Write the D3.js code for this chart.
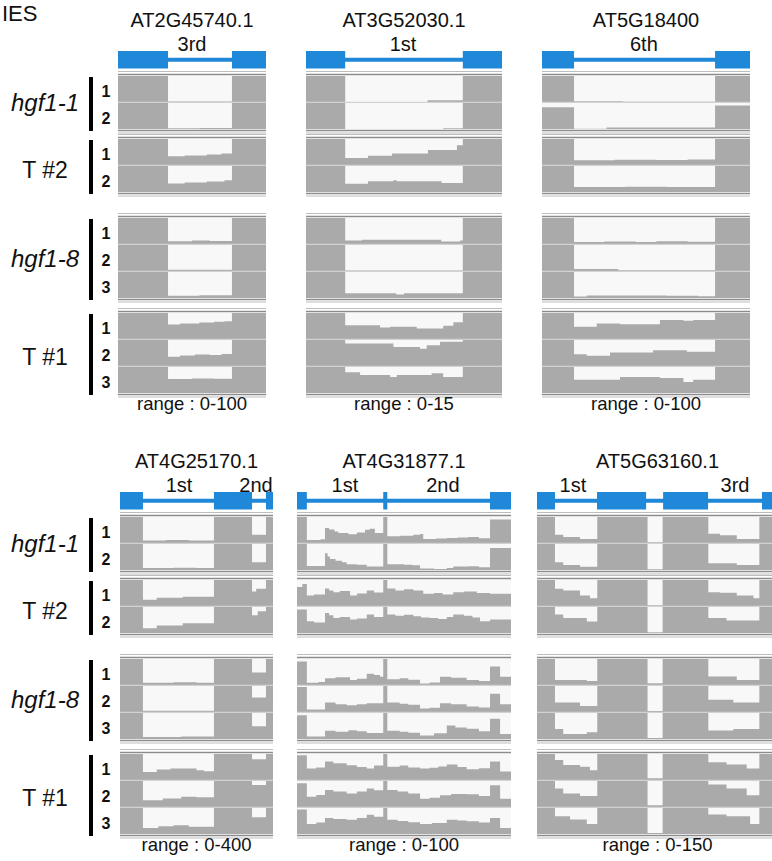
<!DOCTYPE html>
<html>
<head>
<meta charset="utf-8">
<script src="https://cdn.jsdelivr.net/npm/d3@7"></script>
<style>
  body { margin: 0; background: #fff; }
  svg { display: block; font-family: "Liberation Sans", Arial, sans-serif; }
</style>
</head>
<body>
<div id="fig"></div>
<script>
// IGV-style read coverage across retained introns, 6 genes x 10 libraries
const geneNames = ['AT2G45740.1', 'AT3G52030.1', 'AT5G18400', 'AT4G25170.1', 'AT4G31877.1', 'AT5G63160.1'];
const covRanges = [100, 15, 100, 400, 100, 150];
// intron labels: [text, position] in gene coords (0-100 across the window)
const intronLabels = [
  [['3rd', 50]], [['1st', 49.5]], [['6th', 49]],
  [['1st', 38.6], ['2nd', 88.9]], [['1st', 22.4], ['2nd', 68.2]], [['1st', 14.8], ['3rd', 81.5]]
];
const geneExons = [
  [[0, 33.8], [77, 100]],
  [[0, 20], [80, 100]],
  [[0, 15.4], [83.2, 100]],
  [[0, 15], [61.4, 86.3], [95.4, 100]],
  [[0, 4.6], [40.3, 42.2], [90.2, 100]],
  [[0, 7.4], [24.7, 44.9], [51.9, 70.4], [92.6, 100]]
];
const groupNames = ['hgf1-1', 'T #2', 'hgf1-8', 'T #1'];
const groupReps = [2, 2, 3, 3];

// coverage as bedGraph-like steps [start, depth]; track order hgf1-1 r1,r2 | T#2 r1,r2 | hgf1-8 r1-3 | T#1 r1-3
const covAT2G45740 = [
  [[0,100],[33.8,2],[77,100]],
  [[0,100],[33.8,3],[55,4],[77,100]],
  [[0,100],[33.8,34],[45,37],[60,40],[70,44],[77,100]],
  [[0,100],[33.8,33],[45,37],[60,40],[72,45],[77,100]],
  [[0,100],[33.8,11],[50,13],[62,12],[77,100]],
  [[0,100],[33.8,5],[77,100]],
  [[0,100],[33.8,9],[55,11],[77,100]],
  [[0,100],[33.8,56],[42,60],[55,63],[65,66],[72,68],[77,100]],
  [[0,100],[33.8,36],[42,40],[52,44],[62,42],[70,46],[77,100]],
  [[0,100],[33.8,54],[50,56],[65,55],[77,100]]
];
const covAT3G52030 = [
  [[0,15],[20,0],[62,1],[80,15]],
  [[0,15],[20,0],[70,0.4],[80,15]],
  [[0,15],[20,4],[31.6,5.4],[43.9,6.6],[62.2,8.6],[77,11.4],[80,15]],
  [[0,15],[20,4.8],[31.6,6.2],[44.6,6.8],[46.3,6.2],[69.2,5.2],[80,15]],
  [[0,15],[20,2],[28.6,2.4],[69,1.4],[78.6,2],[80,15]],
  [[0,15],[20,0.3],[80,15]],
  [[0,15],[20,2.8],[46,2],[50,2.8],[80,15]],
  [[0,15],[20,8],[37.8,6.6],[42.9,7],[56.5,6],[70,7.6],[75.2,9.6],[80,15]],
  [[0,15],[20,13],[44.6,11],[58.2,10],[61.6,12],[68.4,14],[80,15]],
  [[0,15],[20,12],[27.6,10.4],[42.9,9.2],[46.3,10.4],[64.1,11.4],[70,9.2],[80,15]]
];
const covAT5G18400 = [
  [[0,100],[15.4,3],[39,1],[83.2,100]],
  [[0,84],[15.4,1],[31,6],[83.2,90]],
  [[0,100],[15.4,18],[35,20],[55,19],[70,21],[83.2,100]],
  [[0,100],[15.4,19],[40,20],[60,19],[83.2,100]],
  [[0,100],[15.4,8],[30,10],[45,8],[55,11],[70,9],[83.2,100]],
  [[0,100],[15.4,8],[36.7,3],[83.2,100]],
  [[0,100],[15.4,6],[21.5,10],[60,9],[75,7],[83.2,100]],
  [[0,100],[15.4,47],[26.3,60],[37.5,57],[56.7,73],[68,70],[72.7,73],[83.2,100]],
  [[0,100],[15.4,45],[21.5,39],[32.7,52],[53.4,61],[69.6,55],[83.2,100]],
  [[0,100],[15.4,51],[37.5,62],[56.7,58],[68,42],[72.7,51],[83.2,100]]
];
const covAT4G25170 = [
  [[0,400],[15,40],[30,45],[45,38],[61.4,400],[86.3,128],[95.4,400]],
  [[0,400],[15,30],[35,34],[50,30],[61.4,400],[86.3,118],[95.4,400]],
  [[0,400],[15,96],[24,128],[41,144],[61.4,400],[86.3,224],[89,264],[95.4,400]],
  [[0,400],[15,75],[24,115],[41,150],[61.4,400],[86.3,275],[90,335],[95.4,400]],
  [[0,400],[15,36],[35,42],[50,36],[61.4,400],[86.3,192],[95.4,400]],
  [[0,400],[15,20],[61.4,400],[86.3,225],[95.4,400]],
  [[0,400],[15,30],[40,38],[61.4,400],[86.3,195],[95.4,400]],
  [[0,400],[15,122],[24,160],[33,176],[50,150],[55,133],[61.4,400],[86.3,320],[95.4,400]],
  [[0,400],[15,104],[28,130],[40,156],[50,150],[61.4,400],[86.3,338],[95.4,400]],
  [[0,400],[15,92],[25,120],[35,133],[45,110],[61.4,400],[86.3,256],[95.4,400]]
];
const covAT4G31877 = [
  [[0,100],[4.6,12],[11,14],[13.1,58],[15,52],[17.5,44],[19.3,38],[24,34],[28,40],[31.8,51],[34,55],[36.4,38],[40.3,100],[42.2,26],[48,28],[54.4,32],[57.5,35],[59,15],[65,17],[70,19],[75,21],[80,23],[85,18],[90.2,90]],
  [[0,100],[4.6,15],[13.1,64],[14.3,52],[15.4,42],[18,36],[21,30],[23.2,22],[28,20],[32.6,13],[40.3,100],[42.2,22],[50,20],[54,18],[57.5,6],[64,4],[70,8],[73,13],[80,14],[85,11],[90.2,85]],
  [[0,73],[2.5,85],[4.6,40],[8,44],[13.1,67],[15,60],[17,53],[20,58],[24.8,40],[28,48],[32.6,60],[36,52],[40.3,100],[42.2,67],[46,60],[50,64],[54.4,60],[59,47],[64,50],[68,44],[73,53],[78,56],[84,50],[90.2,47]],
  [[0,90],[4.6,45],[8,40],[13.1,77],[15,68],[17,58],[20,62],[24.8,52],[28,56],[32.6,71],[36,62],[40.3,100],[42.2,71],[46,66],[50,70],[54.4,64],[58,60],[62.1,58],[66,54],[70,62],[73,71],[78,66],[82,60],[85.5,45],[90.2,52]],
  [[0,90],[4.6,9],[10,12],[13.1,26],[18,30],[24.8,19],[28,24],[32.6,43],[36,38],[38.8,32],[40.3,100],[42.2,22],[48,26],[52,20],[57.5,6],[62,10],[66.8,32],[72,28],[79.3,19],[85,15],[90.2,71],[94.9,32]],
  [[0,96],[4.6,10],[13.1,37],[18,30],[23.2,26],[28,30],[32.6,34],[40.3,100],[42.2,37],[48,32],[52,28],[57.5,13],[62,16],[66.8,34],[72,30],[79.3,21],[85,17],[90.2,70],[94.9,30]],
  [[0,91],[4.6,10],[13.1,32],[18,28],[24,34],[28,30],[32.6,23],[40.3,100],[42.2,32],[48,28],[52,24],[57.5,13],[64,22],[70,52],[74,44],[79.3,39],[85,30],[90.2,78],[94.9,19]],
  [[0,95],[4.6,44],[9,48],[13.1,71],[17,64],[23.2,57],[28,50],[32.6,44],[36,56],[40.3,100],[42.2,51],[48,56],[52,48],[57.5,44],[62,47],[66,52],[70,60],[75,50],[79.3,41],[85,45],[90.2,71],[94.9,33]],
  [[0,91],[4.6,39],[9,46],[13.1,65],[17,60],[23.2,52],[28,60],[32.6,71],[36,64],[40.3,100],[42.2,65],[47,60],[52,52],[57.5,32],[62,36],[66.8,45],[72,50],[79.3,49],[85,42],[90.2,84],[94.9,32]],
  [[0,94],[4.6,38],[9,44],[13.1,62],[17,58],[23.2,55],[28,62],[32.6,74],[36,66],[40.3,100],[42.2,55],[47,50],[52,45],[57.5,38],[63,42],[70,55],[75,52],[79.3,49],[85,44],[90.2,62],[94.9,23]]
];
const covAT5G63160 = [
  [[0,150],[7.4,48],[10.8,35],[17.7,23],[24.8,150],[45.5,4],[51.7,150],[70.5,54],[75.3,44],[82.2,23],[91.5,150]],
  [[0,150],[7.4,45],[10.8,29],[17.7,19],[24.8,150],[45.5,4],[51.7,150],[70.5,39],[82.2,29],[91.5,150]],
  [[0,150],[7.4,100],[10.8,90],[17.7,60],[21.8,44],[24.8,150],[45.5,4],[51.7,150],[70.5,80],[75.3,76],[82.2,60],[89.1,44],[91.5,150]],
  [[0,150],[7.4,107],[10.8,87],[20.5,67],[24.8,150],[45.5,4],[51.7,150],[70.5,87],[78,72],[91.5,150]],
  [[0,150],[7.4,29],[20.5,23],[24.8,150],[45.5,10],[51.7,150],[70.5,49],[82.2,29],[91.5,150]],
  [[0,150],[7.4,55],[17.7,35],[24.8,150],[45.5,6],[51.7,150],[70.5,71],[80.8,55],[91.5,150]],
  [[0,150],[7.4,58],[10.8,29],[20.5,39],[24.8,150],[45.5,6],[51.7,150],[70.5,49],[80.8,58],[91.5,150]],
  [[0,150],[7.4,116],[10.8,86],[17.7,76],[21.8,56],[24.8,150],[45.5,10],[51.7,150],[70.5,102],[78,90],[86.3,66],[91.5,150]],
  [[0,150],[7.4,107],[10.8,78],[17.7,64],[24.8,150],[45.5,10],[51.7,150],[70.5,130],[78,107],[86.3,68],[91.5,150]],
  [[0,150],[7.4,102],[13.6,83],[20.5,58],[24.8,150],[45.5,6],[51.7,150],[70.5,112],[78,102],[87.7,58],[91.5,150]]
];
const coverage = [covAT2G45740, covAT3G52030, covAT5G18400, covAT4G25170, covAT4G31877, covAT5G63160];

(function(){
  const W = 772, H = 861;
  const BLUE = '#1f88d8', COV = '#aaaaaa', BG = '#f8f8f8';
  // panel windows (px) and row offsets
  const panelX = [[118,266],[306,502],[542,750],[120,273],[297,511],[537,780]];
  const rowOffset = [0, 441];
  const groupTops = [76, 139, 218, 313];
  const pitch = 27, trackH = 26;

  const svg = d3.select('#fig').append('svg')
    .attr('width', W).attr('height', H)
    .style('overflow', 'hidden');

  // panel title carried over from the figure above
  svg.append('text').attr('x', 2).attr('y', 21)
    .style('font-size', '22px').attr('fill', '#111').text('IES');

  // left-hand sample labels, once per row
  rowOffset.forEach(oy => {
    groupNames.forEach((name, gi) => {
      const top = groupTops[gi] + oy;
      const bottom = top + groupReps[gi] * pitch - 1;
      const mid = (top + bottom) / 2;
      const isT = name.startsWith('T');
      svg.append('text')
        .attr('x', 45).attr('y', mid + (isT ? 12 : 8.5))
        .attr('text-anchor', 'middle')
        .style('font-size', isT ? '23px' : '24px')
        .style('font-style', isT ? 'normal' : 'italic')
        .attr('fill', '#111')
        .text(name);
      svg.append('rect')
        .attr('x', 89).attr('y', top + 1)
        .attr('width', 4).attr('height', bottom - top + 1)
        .attr('fill', '#000');
      d3.range(groupReps[gi]).forEach(i => {
        svg.append('text')
          .attr('x', 106).attr('y', top + i * pitch + 21)
          .attr('text-anchor', 'middle')
          .style('font-size', '16px').style('font-weight', 'bold')
          .attr('fill', '#111')
          .text(i + 1);
      });
    });
  });

  geneNames.forEach((gene, p) => {
    const oy = rowOffset[p < 3 ? 0 : 1];
    const [x0, x1] = panelX[p];
    const xs = d3.scaleLinear().domain([0, 100]).range([x0, x1]);
    const g = svg.append('g').attr('class', 'panel');
    const cx = (x0 + Math.min(x1, 778)) / 2;

    g.append('text')
      .attr('x', cx).attr('y', 27 + oy)
      .attr('text-anchor', 'middle').style('font-size', '20px').attr('fill', '#111')
      .text(gene);
    intronLabels[p].forEach(([t, pos]) => {
      g.append('text')
        .attr('x', xs(pos)).attr('y', 50.5 + oy)
        .attr('text-anchor', 'middle').style('font-size', '20px').attr('fill', '#111')
        .text(t);
    });

    // gene model
    const gy = 51 + oy, gh = 17.5;
    g.append('rect')
      .attr('x', xs(0)).attr('y', gy + gh / 2 - 2)
      .attr('width', xs(100) - xs(0)).attr('height', 4)
      .attr('fill', BLUE);
    g.selectAll('rect.exon')
      .data(geneExons[p])
      .join('rect')
      .attr('class', 'exon')
      .attr('x', d => xs(d[0])).attr('y', gy)
      .attr('width', d => xs(d[1]) - xs(d[0])).attr('height', gh)
      .attr('fill', BLUE);

    // coverage tracks
    const maxV = covRanges[p];
    let t = 0;
    groupReps.forEach((n, gi) => {
      const top = groupTops[gi] + oy;
      const bottom = top + n * pitch - 1;
      g.append('line').attr('x1', x0).attr('x2', x1).attr('y1', top - 4.5).attr('y2', top - 4.5)
        .attr('stroke', '#bdbdbd').attr('stroke-width', 1);
      g.append('line').attr('x1', x0).attr('x2', x1).attr('y1', top - 1.5).attr('y2', top - 1.5)
        .attr('stroke', '#8c8c8c').attr('stroke-width', 1.5);
      for (let i = 0; i < n; i++, t++) {
        const ty = top + i * pitch;
        const ys = d3.scaleLinear().domain([0, maxV]).range([ty + trackH, ty]).clamp(true);
        const cov = coverage[p][t];
        const steps = cov.concat([[100, cov[cov.length - 1][1]]]);
        const area = d3.area()
          .x(d => xs(d[0]))
          .y0(ty + trackH)
          .y1(d => ys(d[1]))
          .curve(d3.curveStepAfter);
        g.append('rect').attr('x', x0).attr('y', ty).attr('width', x1 - x0).attr('height', trackH)
          .attr('fill', BG);
        g.append('path').datum(steps).attr('d', area).attr('fill', COV);
        if (i < n - 1) {
          g.append('line').attr('x1', x0).attr('x2', x1)
            .attr('y1', ty + trackH + 0.5).attr('y2', ty + trackH + 0.5)
            .attr('stroke', '#d2d2d2').attr('stroke-width', 1.5);
        }
      }
      g.append('line').attr('x1', x0).attr('x2', x1).attr('y1', bottom + 1.5).attr('y2', bottom + 1.5)
        .attr('stroke', '#8c8c8c').attr('stroke-width', 1.5);
      g.append('line').attr('x1', x0).attr('x2', x1).attr('y1', bottom + 4).attr('y2', bottom + 4)
        .attr('stroke', '#bdbdbd').attr('stroke-width', 1);
    });

    g.append('text')
      .attr('x', cx).attr('y', 410 + oy)
      .attr('text-anchor', 'middle').style('font-size', '18.5px').attr('fill', '#111')
      .text('range : 0-' + maxV);
  });
})();
</script>
</body>
</html>
